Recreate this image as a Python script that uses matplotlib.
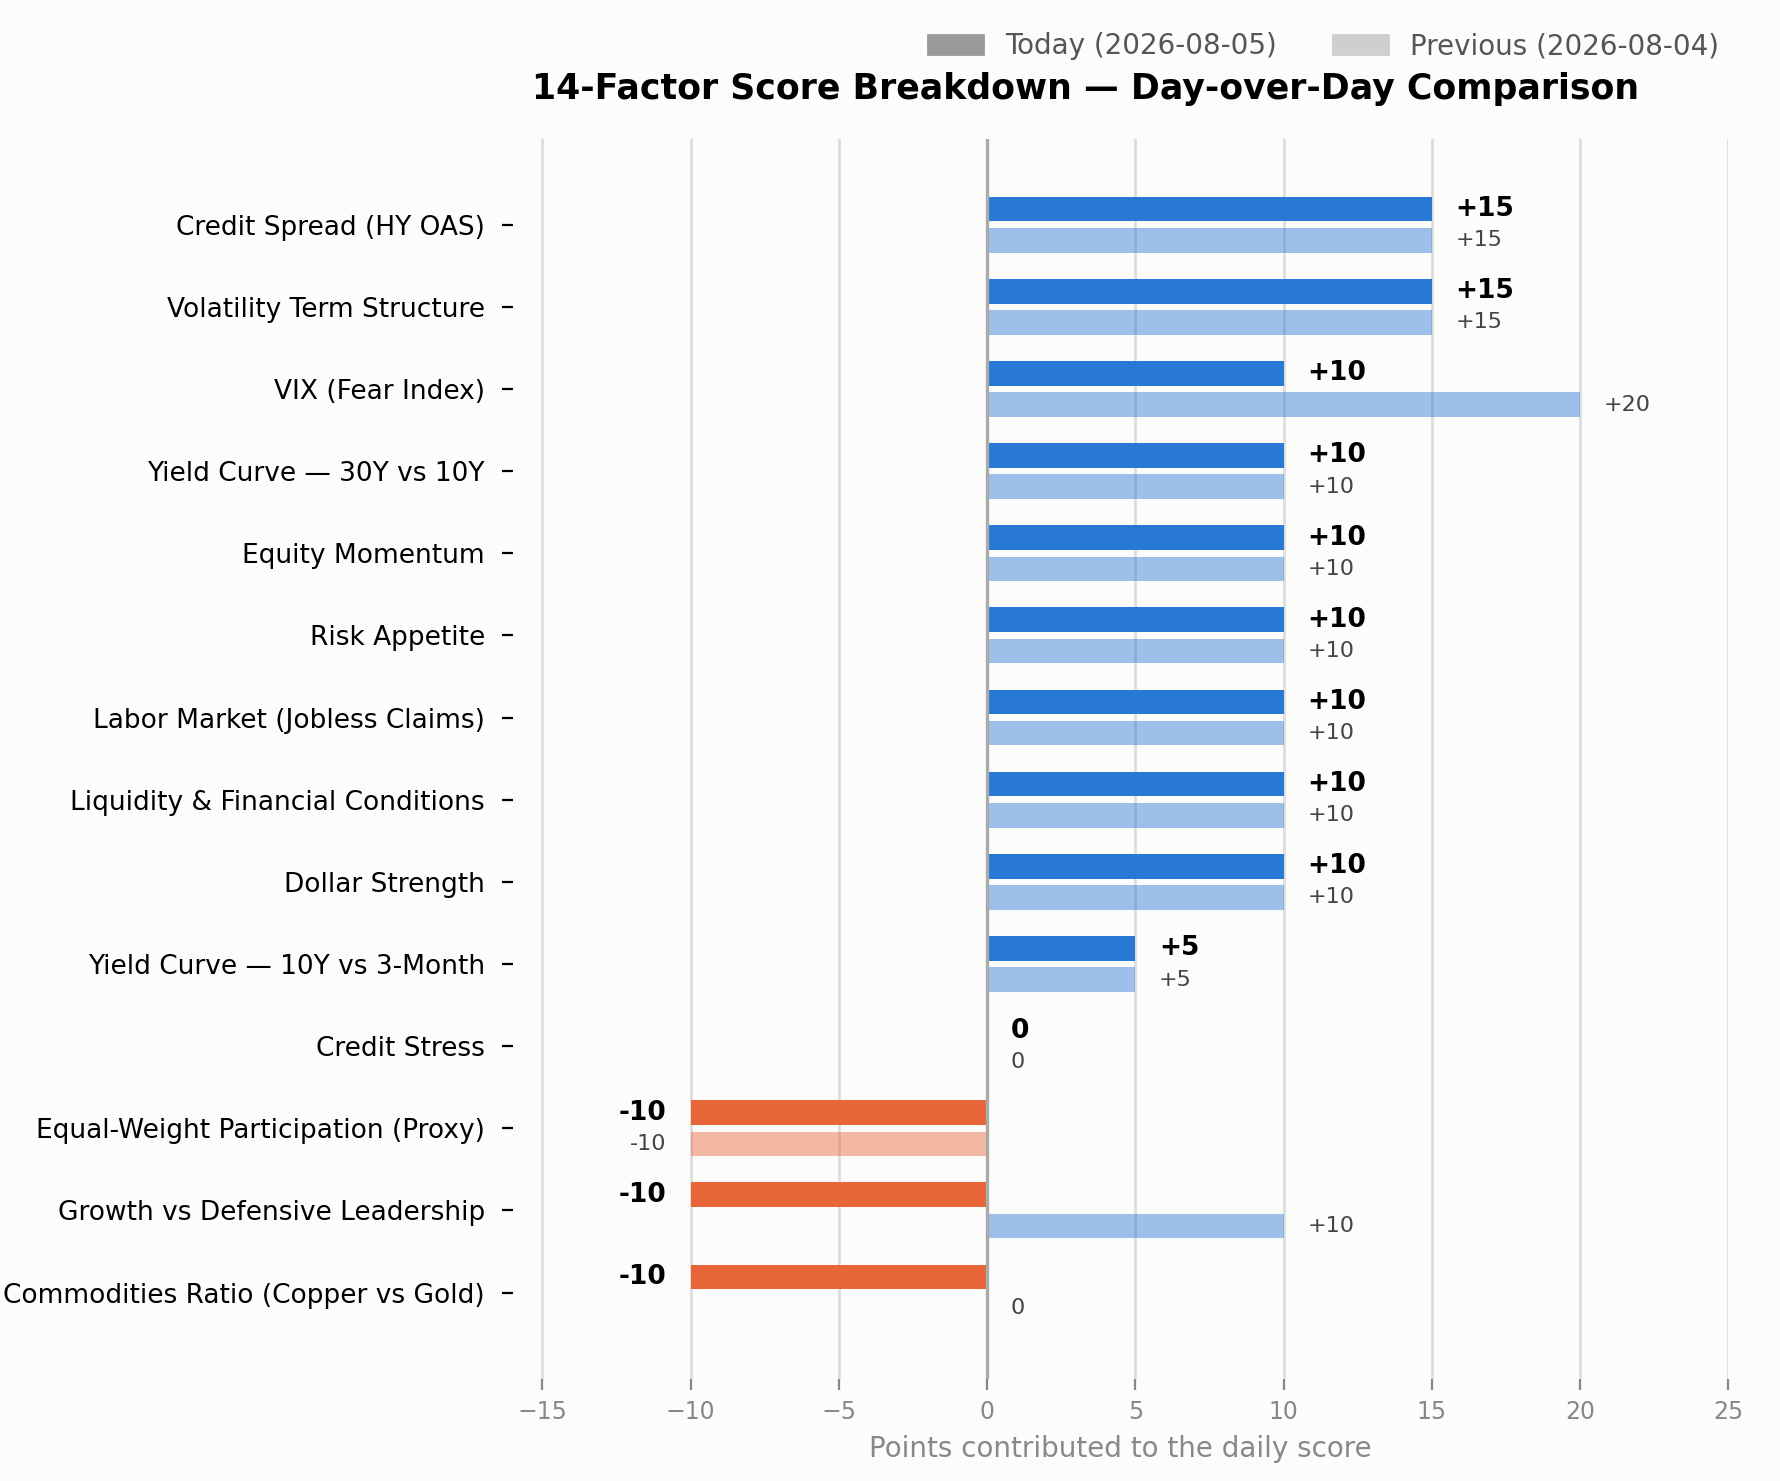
import numpy as np
import matplotlib.pyplot as plt
from matplotlib.patches import Patch

factors = [
    "Credit Spread (HY OAS)", "Volatility Term Structure", "VIX (Fear Index)",
    "Yield Curve — 30Y vs 10Y", "Equity Momentum", "Risk Appetite",
    "Labor Market (Jobless Claims)", "Liquidity & Financial Conditions",
    "Dollar Strength", "Yield Curve — 10Y vs 3-Month", "Credit Stress",
    "Equal-Weight Participation (Proxy)", "Growth vs Defensive Leadership",
    "Commodities Ratio (Copper vs Gold)",
]
today = [15, 15, 10, 10, 10, 10, 10, 10, 10, 5, 0, -10, -10, -10]
previous = [15, 15, 20, 10, 10, 10, 10, 10, 10, 5, 0, -10, 10, 0]

BLUE = "#2878d6"
RED = "#e8653a"
BG = "#fcfcfb"

fig = plt.figure(figsize=(8.9, 7.405), dpi=200, facecolor=BG)
ax = fig.add_axes([0.288, 0.069, 0.683, 0.837], facecolor=BG)

y = np.arange(len(factors))
off, h = 0.19, 0.3
tc = [BLUE if v >= 0 else RED for v in today]
pc = [BLUE if v >= 0 else RED for v in previous]
ax.barh(y - off, today, height=h, color=tc, zorder=3)
ax.barh(y + off, previous, height=h, color=pc, alpha=0.45, zorder=3)

def fmt(v):
    return f"{v:+d}" if v != 0 else "0"

for i, (t, p) in enumerate(zip(today, previous)):
    if t >= 0:
        ax.text(t + 0.8, i - off, fmt(t), va="center", ha="left", fontsize=9.5, fontweight="bold")
    else:
        ax.text(t - 0.8, i - off, fmt(t), va="center", ha="right", fontsize=9.5, fontweight="bold")
    if p >= 0:
        ax.text(p + 0.8, i + off, fmt(p), va="center", ha="left", fontsize=8, color="#444444")
    else:
        ax.text(p - 0.8, i + off, fmt(p), va="center", ha="right", fontsize=8, color="#444444")

ax.axvline(0, color="#aaaaaa", lw=1.2, zorder=4)
ax.set_yticks(y)
ax.set_yticklabels(factors, fontsize=9.5)
ax.set_ylim(14.05, -1.04)
ax.set_xlim(-16, 25)
ax.set_xticks(np.arange(-15, 26, 5))
ax.tick_params(axis="x", colors="#888888", labelsize=8.5, length=4)
ax.tick_params(axis="y", length=4, pad=6)
ax.grid(axis="x", color="#dddddd", lw=1, zorder=0)
for s in ax.spines.values():
    s.set_visible(False)
ax.set_xlabel("Points contributed to the daily score", color="#888888", fontsize=10)

fig.text(0.61, 0.94, "14-Factor Score Breakdown — Day-over-Day Comparison",
         ha="center", va="center", fontsize=12.5, fontweight="bold")
handles = [Patch(color="#999999", label="Today (2026-08-05)"),
           Patch(color="#cfcfcf", label="Previous (2026-08-04)")]
leg = fig.legend(handles=handles, loc="upper right", bbox_to_anchor=(0.98, 0.995),
                 ncol=2, frameon=False, fontsize=10)
for t in leg.get_texts():
    t.set_color("#555555")

fig.savefig("out.png", facecolor=BG)
